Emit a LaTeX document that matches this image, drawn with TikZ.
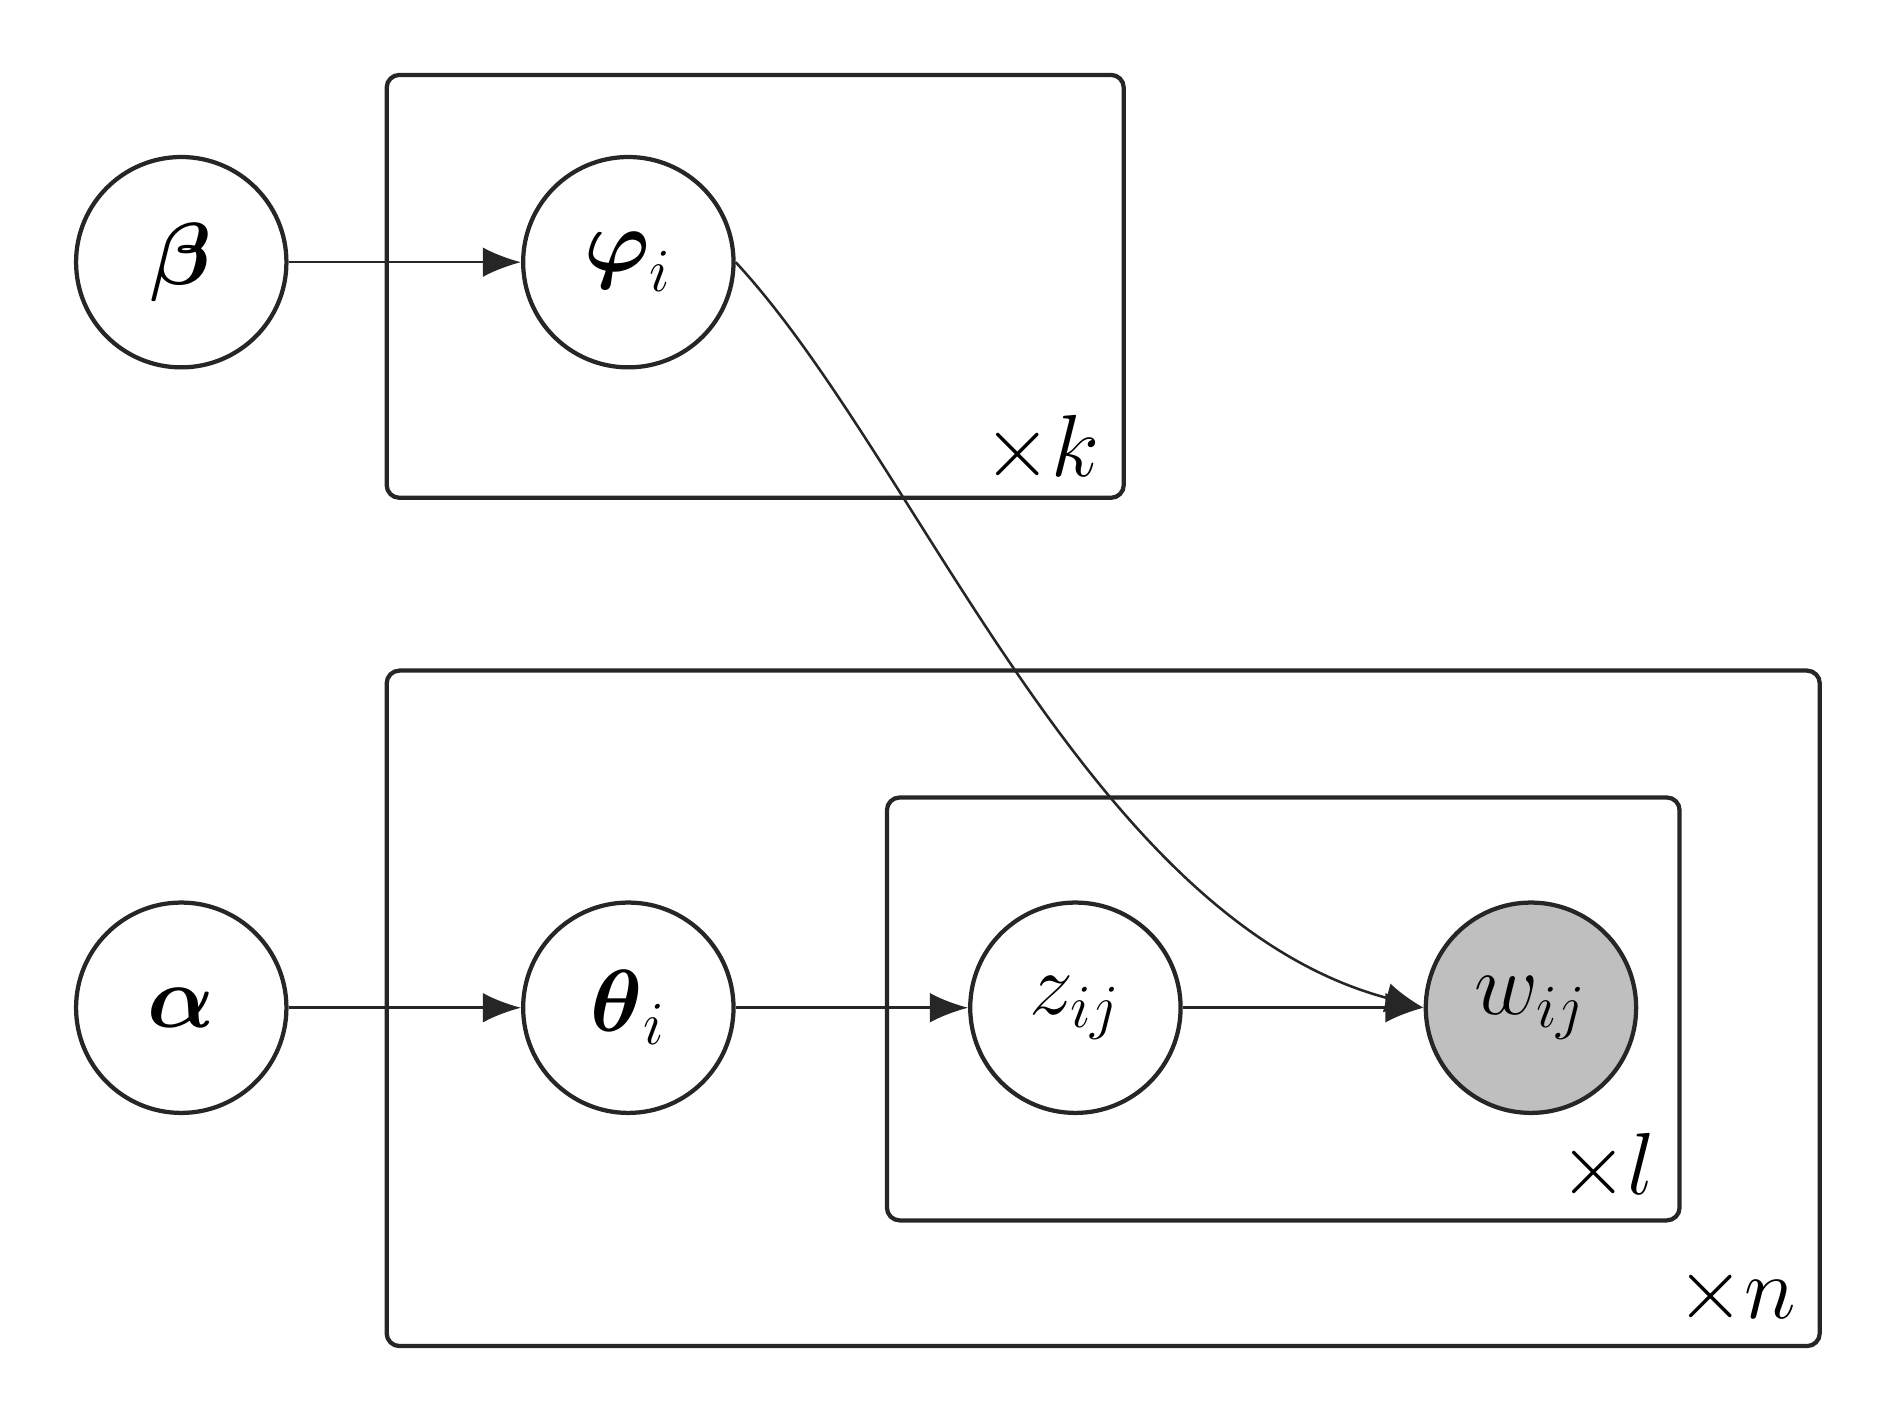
\documentclass[tikz,border=0pt]{standalone}
\usepackage{amsmath}
\usetikzlibrary{arrows.meta}
\begin{document}
\begin{tikzpicture}[x=0.01cm,y=-0.01cm,
    var/.style={circle, draw=black!85, line width=1pt, minimum size=1.74cm, inner sep=0pt, font=\huge},
    obs/.style={var, fill=black!25},
    plate/.style={draw=black!85, line width=1pt, rounded corners=3pt},
    edge/.style={-{Latex[length=9pt,width=7pt]}, semithick, black!85}]
        \useasboundingbox (0,0) rectangle (1560,1171);
        % plates
        \draw[plate] (320,62) rectangle (930,412);
        \draw[plate] (320,555) rectangle (1506,1114);
        \draw[plate] (734,660) rectangle (1390,1010);
        \node[font=\huge] (k) at (862,372) {$\times k$};
        \node[font=\huge] (l) at (1330,966) {$\times l$};
        \node[font=\huge] (n) at (1437,1073) {$\times n$};
        % variables
        \node[var] (beta) at (150,217) {$\boldsymbol{\beta}$};
        \node[var] (phi) at (520,217) {$\boldsymbol{\varphi}_i$};
        \node[var] (alpha) at (150,834) {$\boldsymbol{\alpha}$};
        \node[var] (theta) at (520,834) {$\boldsymbol{\theta}_i$};
        \node[var] (z) at (890,834) {$z_{ij}$};
        \node[obs] (w) at (1267,834) {$w_{ij}$};
        % edges
        \draw[edge] (beta) -- (phi);
        \draw[edge] (alpha) -- (theta);
        \draw[edge] (theta) -- (z);
        \draw[edge] (z) -- (w);
        \draw[edge] (phi.east) .. controls (760,380) and (900,760) .. (w.west);
\end{tikzpicture}
\end{document}
